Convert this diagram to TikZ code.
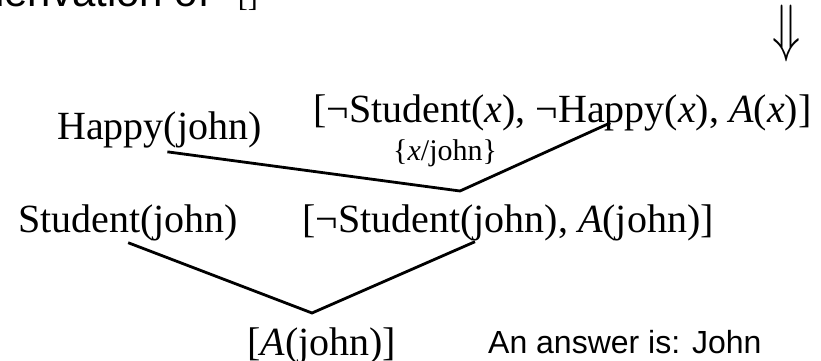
\documentclass[tikz,border=0pt]{standalone}
\usepackage{fontspec}
\setmainfont{Liberation Serif}
\setsansfont{Liberation Sans}
\usepackage{tikz}
\usetikzlibrary{positioning}

\begin{document}
\begin{tikzpicture}[
  x=1pt, y=-1pt,
  clause/.style={font=\fontsize{40}{40}\selectfont, inner sep=0pt, anchor=base west},
  subst/.style={font=\fontsize{30}{30}\selectfont, inner sep=0pt, anchor=base west},
  note/.style={font=\sffamily\fontsize{32}{32}\selectfont, inner sep=0pt, anchor=base west},
  res/.style={line width=2.8pt, line join=miter}
]
\useasboundingbox (0,0) rectangle (821,361);
\clip (0,0) rectangle (821,361);

% heading (cut off at the top) and the arrow
\node[inner sep=0pt, anchor=base east, font=\sffamily\fontsize{42}{42}\selectfont] (title) at (258,7)
  {derivation of\hspace{28pt}{\rmfamily\fontsize{30}{30}\selectfont[]}};
\node[inner sep=0pt] (arrow) at (787,34)
  {\scalebox{4.6}[6.4]{$\Downarrow$}};

% first resolution step
\node[clause] (happy) at (57,139) {Happy(john)};
\node[clause] (clauseone) at (313,122)
  {[¬Student(\textit{x}), ¬Happy(\textit{x}), \textit{A}(\textit{x})]};
\node[subst] (unif) at (393,160) {\{\textit{x}/john\}};
\coordinate (r1) at (460,191);

% second resolution step
\node[clause] (student) at (18,232) {Student(john)};
\node[clause] (clausetwo) at (302,232) {[¬Student(john), \textit{A}(john)]};
\coordinate (r2) at (312,313);

% result
\node[clause] (answer) at (247,355) {[\textit{A}(john)]};
\node[note] (reply) at (488,353) {An answer is: John};

\draw[res] ([xshift=8pt,yshift=-4pt]happy.south) -- (r1)
  -- ([xshift=48pt,yshift=8pt]clauseone.south);
\draw[res] ([yshift=-2pt]student.south) -- (r2)
  -- ([xshift=-33pt,yshift=-1pt]clausetwo.south);
\end{tikzpicture}
\end{document}
